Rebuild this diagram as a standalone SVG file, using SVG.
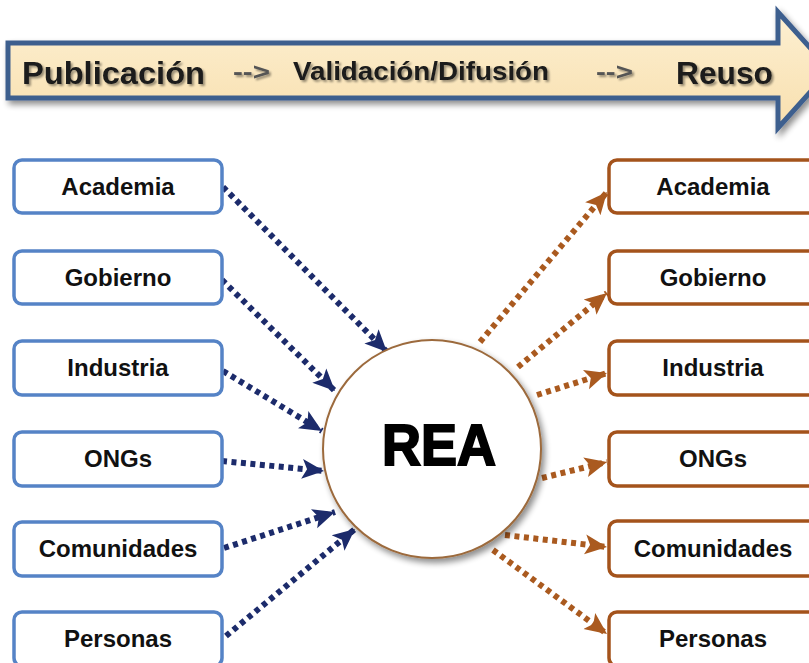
<svg xmlns="http://www.w3.org/2000/svg" width="809" height="663" viewBox="0 0 809 663">
<defs>
<style>
.lbox{fill:#fff;stroke:#5583C6;stroke-width:3.5}
.rbox{fill:#fff;stroke:#A4531B;stroke-width:3.5}
.lbl{font-family:"Liberation Sans",Arial,sans-serif;font-weight:bold;font-size:24px;fill:#111;text-anchor:middle}
.ban{font-family:"Liberation Sans",Arial,sans-serif;font-weight:bold;fill:#1a1a1a}
.lc{fill:none;stroke:#1C2B6B;stroke-width:6;stroke-dasharray:5 4.5}
.rc{fill:none;stroke:#AA5A1F;stroke-width:6;stroke-dasharray:5 4.5}
</style>
<linearGradient id="bg" x1="0" y1="0" x2="0" y2="1">
<stop offset="0" stop-color="#FDF0D2"/>
<stop offset="1" stop-color="#F8DFAE"/>
</linearGradient>
<filter id="sh" x="-20%" y="-20%" width="150%" height="150%">
<feGaussianBlur in="SourceAlpha" stdDeviation="3"/>
<feOffset dx="3" dy="4"/>
<feComponentTransfer><feFuncA type="linear" slope="0.45"/></feComponentTransfer>
<feMerge><feMergeNode/><feMergeNode in="SourceGraphic"/></feMerge>
</filter>
<filter id="ts" x="-10%" y="-20%" width="130%" height="150%">
<feGaussianBlur in="SourceAlpha" stdDeviation="1.2"/>
<feOffset dx="1.5" dy="2"/>
<feComponentTransfer><feFuncA type="linear" slope="0.4"/></feComponentTransfer>
<feMerge><feMergeNode/><feMergeNode in="SourceGraphic"/></feMerge>
</filter>
<marker id="ab" markerUnits="userSpaceOnUse" markerWidth="24" markerHeight="24" viewBox="0 0 24 24" refX="22" refY="12" orient="auto">
<path d="M0,2 L22,12 L0,22 L5,12 Z" fill="#1C2B6B"/>
</marker>
<marker id="ar" markerUnits="userSpaceOnUse" markerWidth="24" markerHeight="24" viewBox="0 0 24 24" refX="22" refY="12" orient="auto">
<path d="M0,2 L22,12 L0,22 L5,12 Z" fill="#AA5A1F"/>
</marker>
</defs>
<rect width="809" height="663" fill="#fff"/>

<g id="banner">
<path d="M8,43 L778,43 L778,12 L830,70 L778,128 L778,98 L8,98 Z" fill="url(#bg)" stroke="#3E5E8E" stroke-width="5" stroke-linejoin="miter" filter="url(#sh)"/>
<g filter="url(#ts)">
<text class="ban" x="22" y="84" font-size="31" textLength="183" lengthAdjust="spacingAndGlyphs">Publicación</text>
<text class="ban" x="233" y="80" font-size="24" style="fill:#555" textLength="37" lengthAdjust="spacingAndGlyphs">--&gt;</text>
<text class="ban" x="293" y="80" font-size="25" textLength="256" lengthAdjust="spacingAndGlyphs">Validación/Difusión</text>
<text class="ban" x="596" y="80" font-size="24" style="fill:#555" textLength="37" lengthAdjust="spacingAndGlyphs">--&gt;</text>
<text class="ban" x="676" y="84" font-size="31" textLength="97" lengthAdjust="spacingAndGlyphs">Reuso</text>
</g>
</g>

<g id="connectors">
<path class="lc" d="M223,187 L387,352" marker-end="url(#ab)"/>
<path class="lc" d="M222,280 L335,391" marker-end="url(#ab)"/>
<path class="lc" d="M223,371 L322,431" marker-end="url(#ab)"/>
<path class="lc" d="M222,461 L324,471" marker-end="url(#ab)"/>
<path class="lc" d="M224,548 L335,512" marker-end="url(#ab)"/>
<path class="lc" d="M226,636 L355,529" marker-end="url(#ab)"/>
<path class="rc" d="M480,342 L607,192" marker-end="url(#ar)"/>
<path class="rc" d="M518,367 L607,293" marker-end="url(#ar)"/>
<path class="rc" d="M537,395 L607,373" marker-end="url(#ar)"/>
<path class="rc" d="M542,478 L607,462" marker-end="url(#ar)"/>
<path class="rc" d="M505,535 L607,547" marker-end="url(#ar)"/>
<path class="rc" d="M493,550 L607,634" marker-end="url(#ar)"/>
</g>

<g id="rea">
<circle cx="432" cy="449" r="109" fill="#fff" stroke="#9C6A3C" stroke-width="2" filter="url(#sh)"/>
<text x="439" y="465" font-family="Liberation Sans,Arial,sans-serif" font-weight="bold" font-size="58" fill="#000" stroke="#000" stroke-width="2" text-anchor="middle" textLength="114" lengthAdjust="spacingAndGlyphs">REA</text>
</g>

<g id="l-academia"><rect class="lbox" x="14" y="160" width="208" height="53" rx="8"/><text class="lbl" x="118" y="195">Academia</text></g>
<g id="l-gobierno"><rect class="lbox" x="14" y="251" width="208" height="53" rx="8"/><text class="lbl" x="118" y="286">Gobierno</text></g>
<g id="l-industria"><rect class="lbox" x="14" y="341" width="208" height="54" rx="8"/><text class="lbl" x="118" y="376">Industria</text></g>
<g id="l-ongs"><rect class="lbox" x="14" y="432" width="208" height="54" rx="8"/><text class="lbl" x="118" y="467">ONGs</text></g>
<g id="l-comunidades"><rect class="lbox" x="14" y="522" width="208" height="54" rx="8"/><text class="lbl" x="118" y="557">Comunidades</text></g>
<g id="l-personas"><rect class="lbox" x="14" y="612" width="208" height="54" rx="8"/><text class="lbl" x="118" y="647">Personas</text></g>

<g id="r-academia"><rect class="rbox" x="609" y="160" width="215" height="53" rx="8"/><text class="lbl" x="713" y="195">Academia</text></g>
<g id="r-gobierno"><rect class="rbox" x="609" y="251" width="215" height="53" rx="8"/><text class="lbl" x="713" y="286">Gobierno</text></g>
<g id="r-industria"><rect class="rbox" x="609" y="341" width="215" height="54" rx="8"/><text class="lbl" x="713" y="376">Industria</text></g>
<g id="r-ongs"><rect class="rbox" x="609" y="432" width="215" height="54" rx="8"/><text class="lbl" x="713" y="467">ONGs</text></g>
<g id="r-comunidades"><rect class="rbox" x="609" y="521" width="215" height="55" rx="8"/><text class="lbl" x="713" y="557">Comunidades</text></g>
<g id="r-personas"><rect class="rbox" x="609" y="612" width="215" height="54" rx="8"/><text class="lbl" x="713" y="647">Personas</text></g>
</svg>
